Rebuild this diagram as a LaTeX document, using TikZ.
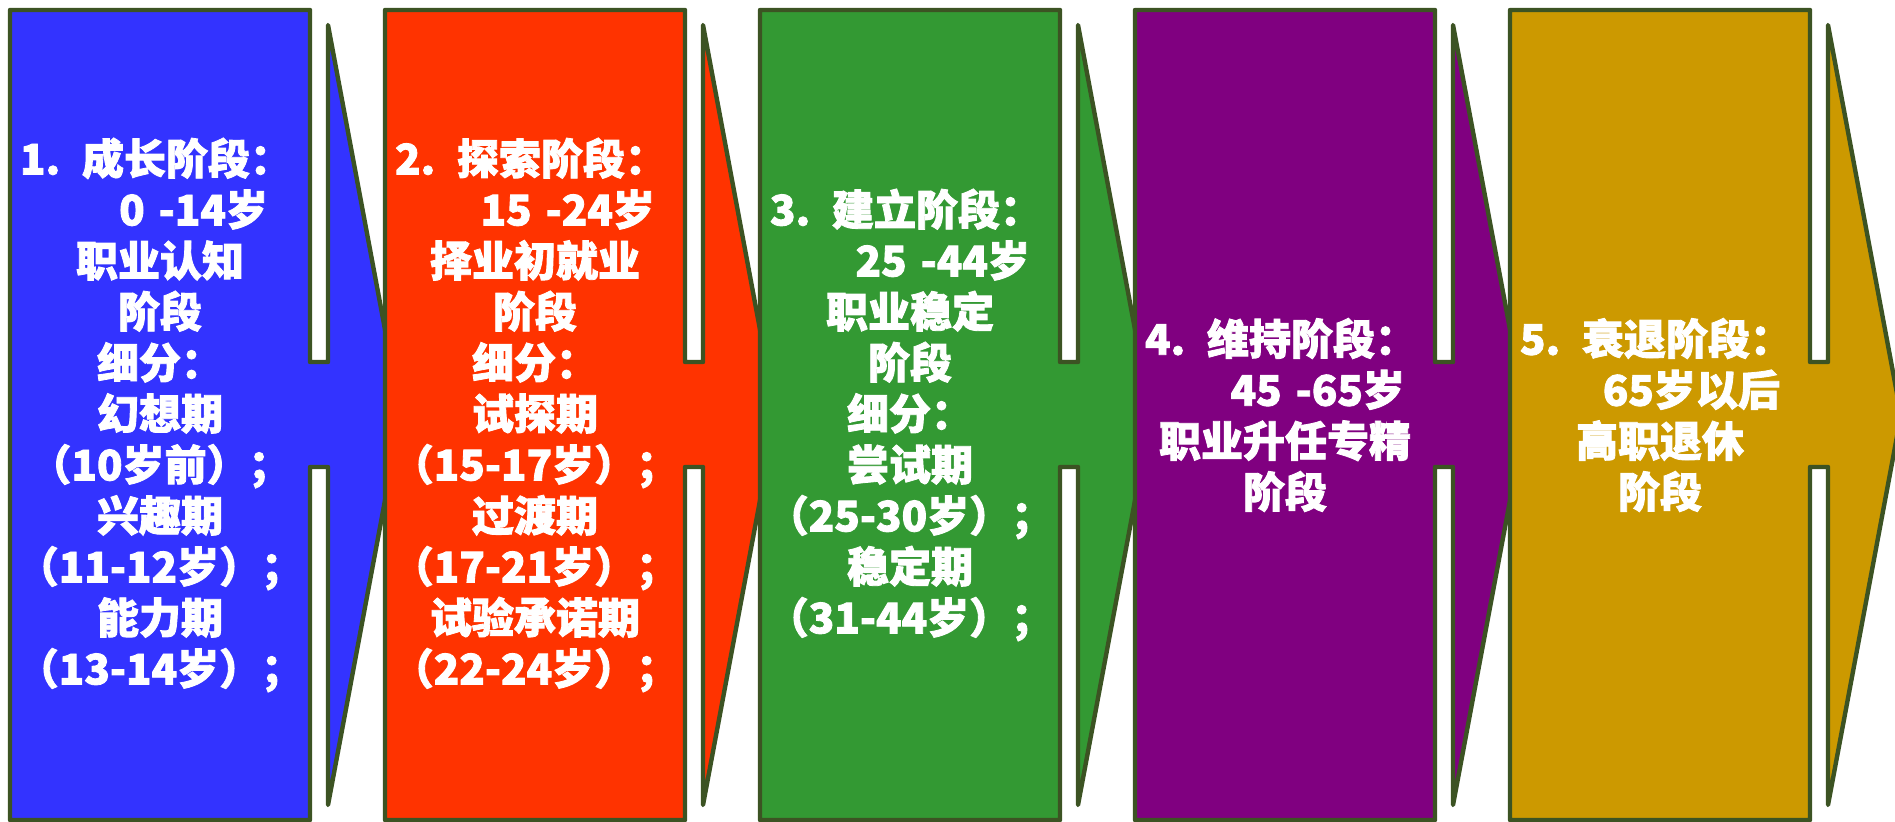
\documentclass[tikz,border=0pt]{standalone}
\usepackage{fontspec}
\newfontfamily\cjkfont{Noto Sans CJK SC Black}[FakeBold=2]
\definecolor{edgegreen}{RGB}{60,83,35}
\definecolor{stageblue}{RGB}{51,51,255}
\definecolor{stagered}{RGB}{255,51,0}
\definecolor{stagegreen}{RGB}{51,153,51}
\definecolor{stagepurple}{RGB}{128,0,128}
\definecolor{stagegold}{RGB}{204,153,0}
\tikzset{
  stageshape/.style={draw=edgegreen, line width=2.2pt, line join=round},
  stagetext/.style={text=white, text width=150pt, align=center, inner sep=0pt,
    font=\cjkfont\fontsize{21pt}{25.5pt}\selectfont},
}
\newcommand{\stagebody}[2]{%
  \draw[stageshape, fill=#2] (#1,10) -- ++(300,0) -- ++(0,352) -- ++(18,0) -- ++(0,-337)
    -- ++(73,390) -- ++(-73,390) -- ++(0,-338) -- ++(-18,0) -- ++(0,353) -- ++(-300,0) -- cycle;
}
\newcommand{\titleline}[2]{\makebox[\linewidth][l]{\hspace*{5pt}\makebox[31pt][l]{#1}#2}}
\newcommand{\ageline}[2]{\makebox[\linewidth][r]{#1\hspace*{#2}}}
\begin{document}
\begin{tikzpicture}[x=0.5pt, y=-0.5pt]
\useasboundingbox (0,0) rectangle (1895,822);
\stagebody{10}{stageblue}
\node[stagetext] (s1) at (160,415) {\titleline{1.}{成长阶段：}\\
  \ageline{0 -14岁}{21pt}\\
  职业认知\\阶段\\细分：\\幻想期\\（10岁前）；\\兴趣期\\（11-12岁）；\\能力期\\（13-14岁）；};
\stagebody{385}{stagered}
\node[stagetext] (s2) at (535,415) {\titleline{2.}{探索阶段：}\\
  \ageline{15 -24岁}{15pt}\\
  择业初就业\\阶段\\细分：\\试探期\\（15-17岁）；\\过渡期\\（17-21岁）；\\试验承诺期\\（22-24岁）；};
\stagebody{760}{stagegreen}
\node[stagetext] (s3) at (910,415) {\titleline{3.}{建立阶段：}\\
  \ageline{25 -44岁}{15pt}\\
  职业稳定\\阶段\\细分：\\尝试期\\（25-30岁）；\\稳定期\\（31-44岁）；};
\stagebody{1135}{stagepurple}
\node[stagetext] (s4) at (1285,415) {\titleline{4.}{维持阶段：}\\
  \ageline{45 -65岁}{15pt}\\
  职业升任专精\\阶段};
\stagebody{1510}{stagegold}
\node[stagetext] (s5) at (1660,415) {\titleline{5.}{衰退阶段：}\\
  \ageline{65岁以后}{15pt}\\
  高职退休\\阶段};
\end{tikzpicture}
\end{document}
